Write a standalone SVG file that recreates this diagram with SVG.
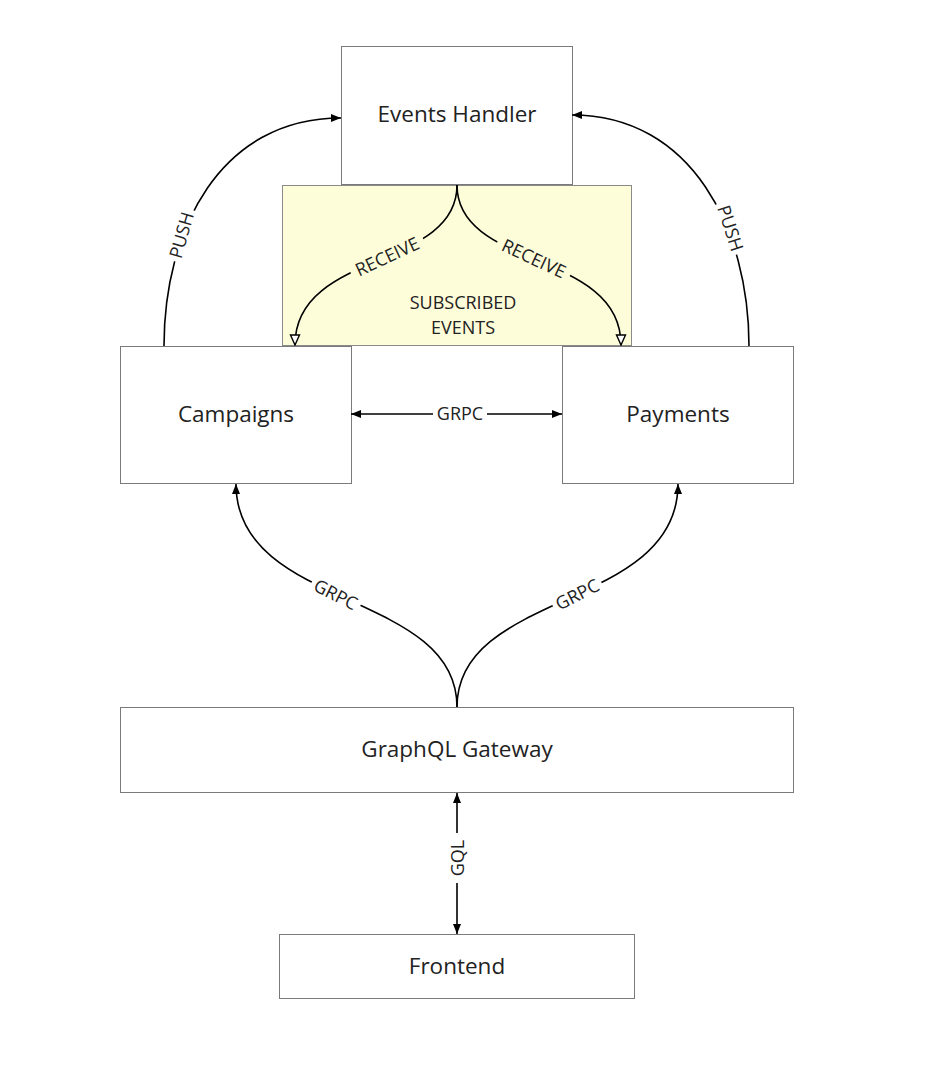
<svg xmlns="http://www.w3.org/2000/svg" width="926" height="1079" viewBox="0 0 926 1079">
<style>
.box{fill:#ffffff;stroke:#7a7a7a;stroke-width:1}
.sub{fill:#fefdd9;stroke:#8a8a8a;stroke-width:1}
.nt{font-family:"Open Sans","Liberation Sans",sans-serif;font-size:22.5px;fill:#222;text-anchor:middle;dominant-baseline:central}
.lt{font-family:"Open Sans","Liberation Sans",sans-serif;font-size:18px;fill:#222;text-anchor:middle;dominant-baseline:central}
.c{fill:none;stroke:#000;stroke-width:1.6}
.bgw{fill:#ffffff}
.bgy{fill:#fefdd9}
</style>
<defs>
<marker id="af" viewBox="0 0 10 10" refX="10" refY="5" markerWidth="10" markerHeight="10" markerUnits="userSpaceOnUse" orient="auto-start-reverse">
<path d="M0,1 L10,5 L0,9 Z" fill="#000"/>
</marker>
<marker id="ah" viewBox="0 0 12 12" refX="11" refY="6" markerWidth="12" markerHeight="12" markerUnits="userSpaceOnUse" orient="auto">
<path d="M1,1.5 L11,6 L1,10.5 Z" fill="#fff" stroke="#000" stroke-width="1.4"/>
</marker>
</defs>
<rect width="926" height="1079" fill="#ffffff"/>

<g id="subscribed-events">
<rect class="sub" x="282.5" y="185.5" width="349" height="160"/>
<text class="lt" x="463" y="302">SUBSCRIBED</text>
<text class="lt" x="463" y="327">EVENTS</text>
</g>
<g id="events-handler">
<rect class="box" x="341.5" y="46.5" width="231" height="138"/>
<text class="nt" x="457" y="113">Events Handler</text>
</g>
<g id="campaigns">
<rect class="box" x="120.5" y="346.5" width="231" height="137"/>
<text class="nt" x="236" y="413">Campaigns</text>
</g>
<g id="payments">
<rect class="box" x="562.5" y="346.5" width="231" height="137"/>
<text class="nt" x="678" y="413">Payments</text>
</g>
<g id="graphql-gateway">
<rect class="box" x="120.5" y="707.5" width="673" height="85"/>
<text class="nt" x="457" y="748">GraphQL Gateway</text>
</g>
<g id="frontend">
<rect class="box" x="279.5" y="934.5" width="355" height="64"/>
<text class="nt" x="457" y="965">Frontend</text>
</g>

<g id="connectors">
<path class="c" d="M164,346 C164,230 220,118 341,118" marker-end="url(#af)"/>
<g transform="translate(181,235) rotate(-74)"><rect class="bgw" x="-27" y="-11" width="54" height="22"/><text class="lt" x="0" y="0">PUSH</text></g>

<path class="c" d="M749,346 C749,230 692,115 572,115" marker-end="url(#af)"/>
<g transform="translate(731,228) rotate(72)"><rect class="bgw" x="-27" y="-11" width="54" height="22"/><text class="lt" x="0" y="0">PUSH</text></g>

<path class="c" d="M457,185 C457,270 295,250 295,345" marker-end="url(#ah)"/>
<g transform="translate(387,256) rotate(-25)"><rect class="bgy" x="-40" y="-11" width="80" height="22"/><text class="lt" x="0" y="0">RECEIVE</text></g>

<path class="c" d="M457,185 C457,270 621,250 621,345" marker-end="url(#ah)"/>
<g transform="translate(534,258) rotate(25)"><rect class="bgy" x="-40" y="-11" width="80" height="22"/><text class="lt" x="0" y="0">RECEIVE</text></g>

<path class="c" d="M351,414 L562,414" marker-start="url(#af)" marker-end="url(#af)"/>
<g transform="translate(460,413)"><rect class="bgw" x="-27" y="-11" width="54" height="22"/><text class="lt" x="0" y="0">GRPC</text></g>

<path class="c" d="M457,707 C457,590 236,610 236,484" marker-end="url(#af)"/>
<g transform="translate(336,594) rotate(27)"><rect class="bgw" x="-27" y="-11" width="54" height="22"/><text class="lt" x="0" y="0">GRPC</text></g>

<path class="c" d="M457,707 C457,590 678,610 678,484" marker-end="url(#af)"/>
<g transform="translate(577,594) rotate(-27)"><rect class="bgw" x="-27" y="-11" width="54" height="22"/><text class="lt" x="0" y="0">GRPC</text></g>

<path class="c" d="M457,793 L457,934" marker-start="url(#af)" marker-end="url(#af)"/>
<g transform="translate(457,858) rotate(-90)"><rect class="bgw" x="-25" y="-11" width="50" height="22"/><text class="lt" x="0" y="0">GQL</text></g>
</g>
</svg>
